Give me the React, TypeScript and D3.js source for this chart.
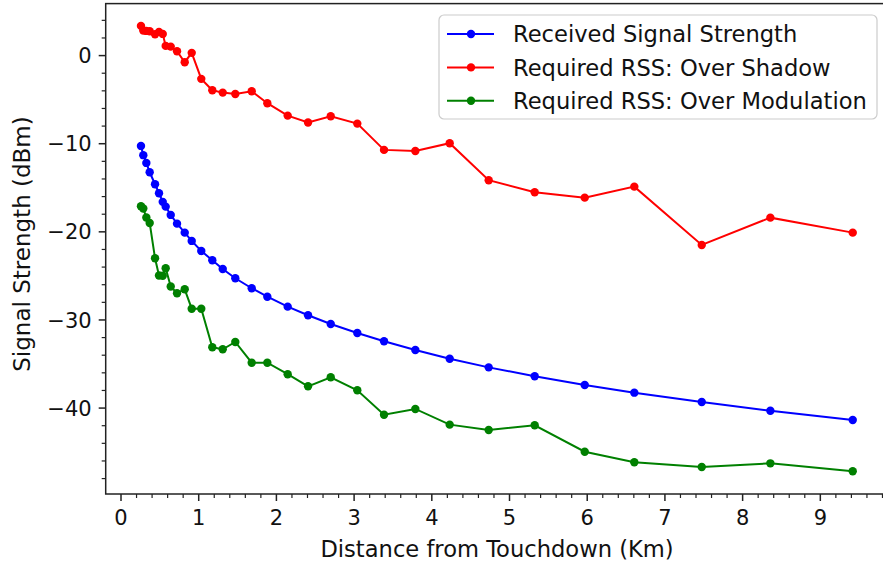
import React from "react";
import * as d3 from "d3";

// distance from touchdown (km), shared by all three series
const distances = [
  0.257, 0.287, 0.326, 0.369, 0.438, 0.489, 0.537, 0.575, 0.64, 0.721, 0.82,
  0.91, 1.033, 1.175, 1.309, 1.471, 1.682, 1.883, 2.145, 2.407, 2.699, 3.041,
  3.385, 3.788, 4.23, 4.732, 5.324, 5.968, 6.606, 7.474, 8.357, 9.417,
];

const received = [
  -10.25, -11.3, -12.18, -13.24, -14.6, -15.62, -16.6, -17.14, -18.08, -19.07,
  -20.09, -21.03, -22.17, -23.22, -24.21, -25.27, -26.4, -27.36, -28.49, -29.47,
  -30.46, -31.48, -32.42, -33.41, -34.4, -35.38, -36.39, -37.38, -38.25, -39.31,
  -40.3, -41.35,
];

const overShadow = [
  3.37, 2.84, 2.8, 2.77, 2.43, 2.69, 2.46, 1.1, 1.02, 0.5, -0.75, 0.31, -2.64,
  -3.93, -4.2, -4.35, -4.04, -5.4, -6.81, -7.6, -6.88, -7.72, -10.7, -10.82,
  -9.94, -14.14, -15.5, -16.12, -14.87, -21.49, -18.39, -20.09,
];

const overModulation = [
  -17.1, -17.36, -18.38, -18.99, -23.0, -24.95, -24.99, -24.13, -26.2, -26.97,
  -26.52, -28.72, -28.72, -33.1, -33.33, -32.5, -34.85, -34.85, -36.16, -37.53,
  -36.5, -37.98, -40.75, -40.1, -41.88, -42.48, -41.95, -44.95, -46.15, -46.69,
  -46.27, -47.17,
];

const seriesNames = [
  "Received Signal Strength",
  "Required RSS: Over Shadow",
  "Required RSS: Over Modulation",
];
const seriesColors = ["#0000ff", "#ff0000", "#008000"];
const seriesValues = [received, overShadow, overModulation];

const xTicks = [0, 1, 2, 3, 4, 5, 6, 7, 8, 9];
const yTicks = [0, -10, -20, -30, -40];

const W = 883;
const H = 564;
const font = "DejaVu Sans";

export default function App() {
  const left = 105.7;
  const right = 888.7;
  const top = 3.6;
  const bottom = 494;

  const x = d3.scaleLinear().domain([-0.197, 9.88]).range([left, right]);
  const y = d3.scaleLinear().domain([-49.75, 5.9]).range([bottom, top]);

  const line = d3
    .line<[number, number]>()
    .x((d) => x(d[0]))
    .y((d) => y(d[1]));

  // minor ticks: every 0.2 km and every 2 dBm
  const xMinor = d3
    .range(-0.2, 9.9, 0.2)
    .filter((v) => v >= -0.197 && v <= 9.88 && Math.abs(v - Math.round(v)) > 0.01);
  const yMinor = d3.range(-48, 6, 2).filter((v) => v % 10 !== 0);

  return (
    <div style={{ position: "absolute", left: 0, top: 0 }}>
      <svg width={W} height={H} style={{ display: "block", background: "#fff" }}>
        {seriesValues.map((vals, si) => {
          const pts = distances.map((d, i) => [d, vals[i]] as [number, number]);
          return (
            <g key={si}>
              <path d={line(pts) || ""} fill="none" stroke={seriesColors[si]} strokeWidth={2} />
              {pts.map((p, i) => (
                <circle key={i} cx={x(p[0])} cy={y(p[1])} r={4.2} fill={seriesColors[si]} />
              ))}
            </g>
          );
        })}

        {/* spines */}
        <rect x={left} y={top} width={right - left} height={bottom - top} fill="none" stroke="#222" strokeWidth={1.5} />

        {/* x ticks */}
        {xMinor.map((v, i) => (
          <line key={"xm" + i} x1={x(v)} x2={x(v)} y1={bottom} y2={bottom + 4} stroke="#222" strokeWidth={1.2} />
        ))}
        {xTicks.map((v) => (
          <g key={"xt" + v}>
            <line x1={x(v)} x2={x(v)} y1={bottom} y2={bottom + 7} stroke="#222" strokeWidth={1.5} />
            <text x={x(v)} y={bottom + 31} textAnchor="middle" fontFamily={font} fontSize={21} fill="#111">
              {v}
            </text>
          </g>
        ))}

        {/* y ticks */}
        {yMinor.map((v, i) => (
          <line key={"ym" + i} x1={left - 4} x2={left} y1={y(v)} y2={y(v)} stroke="#222" strokeWidth={1.2} />
        ))}
        {yTicks.map((v) => (
          <g key={"yt" + v}>
            <line x1={left - 7} x2={left} y1={y(v)} y2={y(v)} stroke="#222" strokeWidth={1.5} />
            <text x={left - 14} y={y(v)} dy="0.36em" textAnchor="end" fontFamily={font} fontSize={21} fill="#111">
              {v < 0 ? "\u2212" + Math.abs(v) : v}
            </text>
          </g>
        ))}

        {/* axis labels */}
        <text x={497} y={557} textAnchor="middle" fontFamily={font} fontSize={22.6} fill="#111">
          Distance from Touchdown (Km)
        </text>
        <text
          transform={`translate(30, ${244}) rotate(-90)`}
          textAnchor="middle"
          fontFamily={font}
          fontSize={23}
          fill="#111"
        >
          Signal Strength (dBm)
        </text>

        {/* legend */}
        <g>
          <rect x={439} y={15} width={438} height={104} rx={5} fill="#fff" fillOpacity={0.8} stroke="#cccccc" strokeWidth={1.2} />
          {seriesNames.map((name, i) => {
            const ry = 34 + i * 33.4;
            return (
              <g key={name}>
                <line x1={447} x2={494} y1={ry} y2={ry} stroke={seriesColors[i]} strokeWidth={2} />
                <circle cx={471} cy={ry} r={4.2} fill={seriesColors[i]} />
                <text x={513} y={ry} dy="0.36em" fontFamily={font} fontSize={22.6} fill="#111">
                  {name}
                </text>
              </g>
            );
          })}
        </g>
      </svg>
    </div>
  );
}
